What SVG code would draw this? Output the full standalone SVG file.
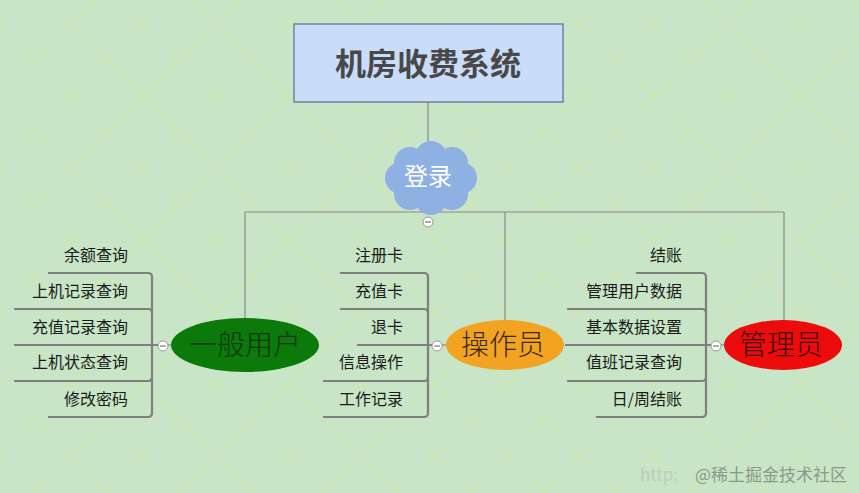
<svg xmlns="http://www.w3.org/2000/svg" width="859" height="493" viewBox="0 0 859 493">
<style>
.ln{fill:none;stroke:#888;stroke-width:1.2}
.br{fill:none;stroke:#7f7f7f;stroke-width:2.2}
.t{font-family:"Noto Sans CJK SC","Noto Sans",sans-serif;font-size:16px;fill:#1a1a1a}
.big{font-family:"Noto Sans CJK SC","Noto Sans",sans-serif;font-size:28px;font-weight:300}
.col{fill:#fff;stroke:#999;stroke-width:1}
.minus{stroke:#777;stroke-width:1.2}
</style>
<defs>
<pattern id="bg" width="73" height="72" patternUnits="userSpaceOnUse" x="-3.5" y="24">
<path d="M0,0L73,72M73,0L0,72" stroke="#d3e79c" stroke-width="1.6" stroke-dasharray="2.5,2.5" fill="none"/>
</pattern>
<g id="cm"><circle class="col" r="5"/><line class="minus" x1="-3" y1="0" x2="3" y2="0"/></g>
</defs>
<rect width="859" height="493" fill="#c8e5c8"/>
<rect width="859" height="493" fill="url(#bg)"/>

<g id="connectors">
<path class="ln" d="M428,102V150"/>
<path class="ln" d="M245,212H784M245,212V319M505,212V321M784,212V321"/>
<path class="br" d="M48,273H148Q152,273 152,277V413Q152,417 148,417H48"/>
<path class="br" d="M14,309H148Q152,309 152,313"/>
<path class="br" d="M14,345H158"/>
<path class="br" d="M14,381H148Q152,381 152,377"/>
<path class="ln" d="M168,345H172"/>
<path class="br" d="M340,273H424Q428,273 428,277V413Q428,417 424,417H323"/>
<path class="br" d="M340,309H424Q428,309 428,313"/>
<path class="br" d="M357,345H432"/>
<path class="br" d="M323,381H424Q428,381 428,377"/>
<path class="ln" d="M442,345H447"/>
<path class="br" d="M636,273H702Q706,273 706,277V413Q706,417 702,417H596"/>
<path class="br" d="M567,309H702Q706,309 706,313"/>
<path class="br" d="M565,345H711"/>
<path class="br" d="M567,381H702Q706,381 706,377"/>
<path class="ln" d="M721,345H725"/>
</g>

<g id="title">
<rect x="294" y="24" width="269" height="78" fill="#c9dcf8" stroke="#6f8299" stroke-width="1.5"/>
<text x="428" y="75" text-anchor="middle" font-family="Noto Sans CJK SC,sans-serif" font-size="31" font-weight="bold" fill="#484848">机房收费系统</text>
</g>

<g id="login">
<g fill="#8eb0e2">
<ellipse cx="431" cy="178" rx="34" ry="25"/>
<circle cx="431" cy="157" r="16"/>
<circle cx="452" cy="163" r="16"/>
<circle cx="461" cy="178" r="16"/>
<circle cx="452" cy="194" r="16"/>
<circle cx="431" cy="199" r="16"/>
<circle cx="410" cy="194" r="16"/>
<circle cx="401" cy="178" r="16"/>
<circle cx="410" cy="163" r="16"/>
</g>
<text x="428" y="185" text-anchor="middle" font-family="Noto Sans CJK SC,sans-serif" font-size="24" fill="#fff">登录</text>
<use href="#cm" x="428" y="222"/>
</g>

<g id="user">
<ellipse cx="245" cy="345" rx="74" ry="27" fill="#0b7a0b"/>
<text class="big" x="245" y="355" text-anchor="middle" fill="#143514">一般用户</text>
<use href="#cm" x="163" y="346"/>
<text class="t" x="128" y="261" text-anchor="end">余额查询</text>
<text class="t" x="128" y="297" text-anchor="end">上机记录查询</text>
<text class="t" x="128" y="333" text-anchor="end">充值记录查询</text>
<text class="t" x="128" y="368" text-anchor="end">上机状态查询</text>
<text class="t" x="128" y="405" text-anchor="end">修改密码</text>
</g>

<g id="operator">
<ellipse cx="505" cy="345" rx="59" ry="25" fill="#f2a322"/>
<text class="big" x="503" y="355" text-anchor="middle" fill="#3a2810">操作员</text>
<use href="#cm" x="437" y="346"/>
<text class="t" x="403" y="261" text-anchor="end">注册卡</text>
<text class="t" x="403" y="297" text-anchor="end">充值卡</text>
<text class="t" x="403" y="333" text-anchor="end">退卡</text>
<text class="t" x="403" y="368" text-anchor="end">信息操作</text>
<text class="t" x="403" y="405" text-anchor="end">工作记录</text>
</g>

<g id="admin">
<ellipse cx="783" cy="345" rx="59" ry="25" fill="#ee0b0b"/>
<text class="big" x="781" y="355" text-anchor="middle" fill="#3a0808">管理员</text>
<use href="#cm" x="716" y="346"/>
<text class="t" x="682" y="261" text-anchor="end">结账</text>
<text class="t" x="682" y="297" text-anchor="end">管理用户数据</text>
<text class="t" x="682" y="333" text-anchor="end">基本数据设置</text>
<text class="t" x="682" y="368" text-anchor="end">值班记录查询</text>
<text class="t" x="682" y="405" text-anchor="end">日/周结账</text>
</g>

<text x="640" y="481" font-family="Noto Sans CJK SC,sans-serif" font-size="17"><tspan fill="#b8d0b8">http:</tspan><tspan x="695" fill="#8a9a8a">@稀土掘金技术社区</tspan></text>
</svg>
